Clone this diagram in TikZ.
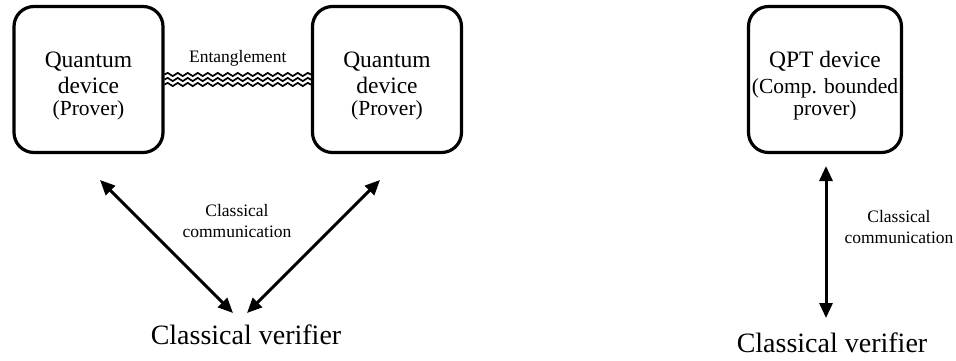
\documentclass[tikz,border=0pt]{standalone}
\usepackage{fontspec}
\setmainfont{Liberation Serif}
\usetikzlibrary{arrows.meta,positioning,decorations.pathmorphing}

\newcommand{\subfnt}{\fontsize{21.5}{22}\selectfont}
\begin{document}
\begin{tikzpicture}[x=1pt,y=-1pt,
  dev/.style={draw,line width=3.2pt,rounded corners=20pt,minimum width=149pt,
    minimum height=146pt,align=center,font=\fontsize{23.5}{22}\selectfont},
  lbl/.style={inner sep=0pt,align=center,font=\fontsize{17.5}{21}\selectfont},
  ver/.style={inner sep=0pt,anchor=base,font=\fontsize{28}{30}\selectfont},
  ent/.style={decorate,decoration={snake,amplitude=1.6pt,segment length=10pt},line width=1.7pt},
  com/.style={{Triangle[length=15pt,width=13pt]}-{Triangle[length=15pt,width=13pt]},line width=3pt}]
  \useasboundingbox (0,0) rectangle (956,360);
  % two entangled provers, one verifier
  \node[dev] (qd1) at (88.5,79.5) {\rule{0pt}{29pt}Quantum\\[4pt]device\\\subfnt (Prover)};
  \node[dev] (qd2) at (387,79.5) {\rule{0pt}{29pt}Quantum\\[4pt]device\\\subfnt (Prover)};
  \node[ver] (cv1) at (246,344) {Classical verifier};
  \draw[ent] ([yshift=5pt]qd1.east) -- ([yshift=5pt]qd2.west);
  \draw[ent] (qd1.east) -- node[lbl,above=12pt] (ent) {Entanglement} (qd2.west);
  \draw[ent] ([yshift=-5pt]qd1.east) -- ([yshift=-5pt]qd2.west);
  \coordinate (a1) at (100,180);
  \coordinate (b1) at (233,313);
  \coordinate (a2) at (380,180);
  \coordinate (b2) at (247,313);
  \draw[com] (a1) -- (b1);
  \draw[com] (a2) -- (b2);
  \node[lbl] (cc1) at (237,221) {Classical\\communication};
  % single bounded prover
  \node[dev] (qpt) at (825,79.5) {\rule{0pt}{29pt}QPT device\\[4pt]\subfnt (Comp. bounded\\\subfnt prover)};
  \node[ver] (cv2) at (832,352) {Classical verifier};
  \coordinate (a3) at (826,166);
  \coordinate (b3) at (826,318);
  \draw[com] (a3) -- (b3);
  \node[lbl] (cc2) at (899,227) {Classical\\communication};
\end{tikzpicture}
\end{document}
